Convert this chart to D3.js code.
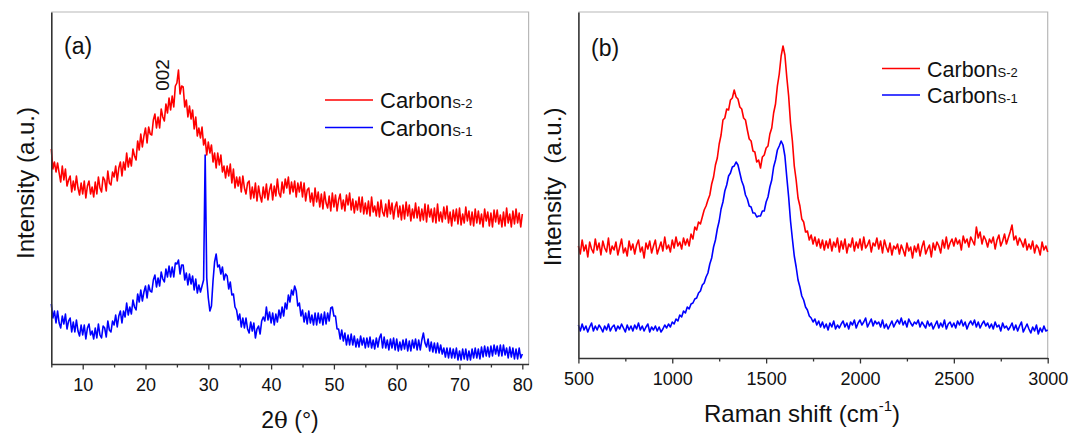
<!DOCTYPE html>
<html>
<head>
<meta charset="utf-8">
<script src="https://cdn.jsdelivr.net/npm/d3@7"></script>
<style>
  html, body { margin: 0; padding: 0; background: #fff; }
  svg { display: block; }
  text { font-family: "Liberation Sans", Arial, sans-serif; fill: #111; }
</style>
</head>
<body>
<svg id="chart" width="1071" height="435"></svg>
<script>
// ---------------- DATA ----------------
// (a) XRD: 2θ sampling grid start/step, intensities (a.u.)
const xrdTheta0 = 5, xrdStep = 0.25;
const xrdRed = [
215,195,202,192, 201,191,182,198, 184,195,178,184, 188,172,183,174, 188,176,169,181,
170,183,166,178, 183,170,177,167, 182,170,187,176, 172,187,184,173, 193,181,179,192,
187,198,183,196, 202,188,202,194, 211,197,206,198, 215,208,204,223, 214,230,217,228,
236,221,237,230, 229,244,250,236, 247,236,255,247, 243,260,251,266, 254,268,257,278,
281,294,270,278, 277,257,264,247, 258,245,254,235, 247,228,236,226, 237,219,225,209,
222,211,219,202, 211,196,211,199, 209,192,198,186, 198,188,200,181, 195,176,187,178,
187,172,188,176, 170,181,183,165, 177,166,181,163, 178,168,162,177, 166,180,164,174,
180,164,178,168, 185,171,167,182, 171,185,176,187, 170,182,172,183, 167,181,172,182,
167,181,163,174, 176,162,171,158, 176,162,172,157, 170,155,172,161, 156,168,153,171,
157,169,153,164, 170,155,164,153, 169,159,171,154, 165,151,163,154, 167,152,167,150,
161,150,163,148, 167,152,158,148, 162,147,164,152, 148,160,147,164, 150,161,145,157,
162,147,158,144, 159,145,162,148, 159,143,155,146, 161,146,157,143, 155,144,160,142,
159,147,155,142, 156,141,160,143, 152,142,157,145, 158,141,152,138, 154,143,155,140,
156,139,150,141, 157,143,153,139, 152,138,155,141, 153,140,150,137, 155,143,152,138,
151,137,154,142, 154,140,149,137, 152,138,156,141, 150,137,153,140, 155,141,151,137,
150
];
const xrdBlue = [
60,46,53,41, 53,41,36,48, 40,50,35,43, 46,32,42,32, 44,33,28,39,
29,39,25,36, 40,29,33,25, 36,26,40,29, 26,38,36,27, 43,34,32,43,
39,49,37,48, 53,41,53,47, 61,49,57,50, 64,57,54,70, 62,74,63,72,
78,66,79,73, 72,84,89,77, 86,78,92,85, 82,95,87,98, 87,97,87,101,
100,104,90,99, 99,84,91,79, 90,80,88,74, 85,71,79,72, 78,84,209,86,
66,53,58,83, 102,110,97,99, 90,97,84,90, 88,75,82,69, 70,57,54,44,
50,37,46,36, 46,35,31,42, 33,41,26,35, 38,30,43,47, 43,57,44,52,
41,51,39,50, 42,54,46,57, 48,61,55,69, 62,74,69,78, 73,58,61,48,
54,42,51,40, 53,41,49,39, 51,39,51,41, 50,39,52,40, 51,43,56,57,
48,48,35,35, 25,34,23,31, 19,29,19,30, 19,28,17,25, 17,28,19,26,
16,26,17,27, 16,24,15,26, 17,26,30,16, 27,16,24,14, 25,16,26,14,
25,13,22,14, 24,15,25,13, 23,13,24,16, 25,14,24,14, 24,31,21,17,
25,13,22,12, 21,11,21,11, 19,10,16,7, 16,6,16,6, 15,6,16,4,
13,4,15,5, 15,4,13,4, 15,6,16,6, 15,5,17,7, 18,8,17,7,
18,8,19,10, 18,8,19,8, 19,9,16,6, 17,7,16,5, 15,5,16,6,
10
];
const xrdTicks = [10, 20, 30, 40, 50, 60, 70, 80];
const xrdMinorTicks = [5, 15, 25, 35, 45, 55, 65, 75];

// (b) Raman: shift grid start/step (cm-1), intensities (a.u.)
const ramanX0 = 500, ramanStep = 10;
const ramanRed = [
112,104,118,107,113,101,116,109,105,119,
108,115,103,117,110,106,120,104,112,108,
116,103,111,119,105,110,102,117,108,114,
104,113,118,106,111,100,115,109,117,105,
112,118,104,110,116,107,121,109,113,106,
118,110,121,112,116,109,120,113,119,112,
124,119,131,128,136,134,141,148,152,158,
163,174,181,193,200,214,223,238,240,249,
248,258,260,268,261,259,251,249,240,238,
228,219,217,207,206,196,198,190,201,203,
210,212,224,230,245,254,272,284,302,312,
303,281,262,235,217,192,178,160,152,139,
136,126,127,118,123,114,121,112,119,110,
118,108,117,110,119,107,116,111,120,106,
117,109,119,105,114,111,120,107,116,110,
119,108,121,110,113,118,106,115,112,120,
109,117,105,118,111,106,115,103,112,109,
114,104,113,108,102,115,107,111,100,112,
106,114,102,111,117,104,109,113,101,115,
108,116,112,105,118,110,121,109,115,119,
112,120,114,118,108,122,115,119,111,121,
117,113,131,120,126,114,122,118,111,119,
115,121,109,118,123,112,117,124,114,120,
126,133,118,122,113,120,116,111,119,108,
114,109,117,105,113,110,103,116,108,112,
106
];
const ramanBlue = [
33,27,34,28,32,26,31,35,27,32,
28,33,30,26,32,28,34,27,31,33,
27,32,29,34,30,26,33,28,32,27,
33,29,35,28,32,27,31,34,26,31,
28,32,27,31,26,29,33,30,34,31,
36,34,39,37,43,41,47,45,51,49,
54,55,59,60,65,67,73,75,81,85,
94,100,111,118,129,137,149,156,167,173,
182,185,191,192,196,193,185,177,172,163,
159,152,151,145,145,141,142,142,147,147,
156,161,171,178,191,198,208,212,217,213,
202,181,161,137,119,102,91,78,71,62,
58,51,48,42,40,36,39,33,37,31,
36,30,34,28,35,31,37,29,33,30,
34,37,31,35,29,36,33,38,30,35,
38,33,36,40,31,35,39,32,37,34,
36,31,38,30,34,29,33,37,31,35,
38,34,40,33,37,31,39,35,32,36,
34,38,31,36,33,30,37,32,35,29,
33,37,30,35,31,38,29,34,36,31,
35,30,37,33,38,32,36,29,34,37,
33,38,31,36,30,34,37,32,35,30,
34,29,36,31,33,27,35,30,32,28,
31,35,28,33,27,32,36,26,30,34,
29,25,31,27,33,24,30,26,32,27,
28
];
const ramanTicks = [500, 1000, 1500, 2000, 2500, 3000];
const ramanMinorTicks = [750, 1250, 1750, 2250, 2750];

const seriesNames = ["Carbon", "Carbon"];
const seriesSubs = ["S-2", "S-1"];
const seriesColors = ["#ff0000", "#0000ff"];

// ---------------- DRAW ----------------
const svg = d3.select("#chart");

function panel(cfg) {
  const g = svg.append("g");
  const x = d3.scaleLinear().domain(cfg.xDomain).range([cfg.left, cfg.right]);
  const y = d3.scaleLinear().domain(cfg.yDomain).range([cfg.bottom, cfg.top]);

  // frame top/right (light)
  g.append("path")
    .attr("d", `M${cfg.left},${cfg.top}H${cfg.right}V${cfg.bottom}`)
    .attr("fill", "none").attr("stroke", "#b8b8b8").attr("stroke-width", 1.2);

  const line = d3.line().x(d => x(d[0])).y(d => y(d[1]));
  const toPts = (arr) => arr.map((v, i) => [cfg.x0 + i * cfg.step, v]);

  [1, 0].forEach(k => {
    g.append("path")
      .datum(toPts(cfg.series[k]))
      .attr("d", line)
      .attr("fill", "none")
      .attr("stroke", seriesColors[k])
      .attr("stroke-width", 1.6)
      .attr("stroke-linejoin", "round");
  });

  // minor ticks
  g.append("g")
    .attr("transform", `translate(0,${cfg.bottom})`)
    .call(d3.axisBottom(x).tickValues(cfg.minor).tickSize(3.5).tickSizeOuter(0).tickFormat(""))
    .call(a => a.select(".domain").remove())
    .call(a => a.selectAll("line").attr("stroke", "#333").attr("stroke-width", 1.3));
  // major ticks
  g.append("g")
    .attr("transform", `translate(0,${cfg.bottom})`)
    .call(d3.axisBottom(x).tickValues(cfg.major).tickSize(5.5).tickSizeOuter(0)
      .tickPadding(cfg.tickPad).tickFormat(d3.format("d")))
    .call(a => a.select(".domain").attr("stroke", "#333").attr("stroke-width", 1.6))
    .call(a => a.selectAll("line").attr("stroke", "#333").attr("stroke-width", 1.3))
    .call(a => a.selectAll("text").attr("font-size", 18).attr("fill", "#111")
      .attr("font-family", '"Liberation Sans", Arial, sans-serif'));

  // left axis line
  g.append("g")
    .attr("transform", `translate(${cfg.left},0)`)
    .call(d3.axisLeft(y).tickValues([]).tickSizeOuter(0))
    .call(a => a.select(".domain").attr("stroke", "#333").attr("stroke-width", 1.6));

  // panel letter
  g.append("text").attr("x", cfg.letterX).attr("y", cfg.letterY)
    .attr("font-size", 23).text(cfg.letter);

  // legend
  seriesNames.forEach((nm, i) => {
    const ly = cfg.legY + i * cfg.legGap;
    g.append("line").attr("x1", cfg.legX1).attr("x2", cfg.legX2)
      .attr("y1", ly).attr("y2", ly)
      .attr("stroke", seriesColors[i]).attr("stroke-width", 1.5);
    const t = g.append("text").attr("x", cfg.legX2 + 7).attr("y", ly + 8)
      .attr("font-size", cfg.legFont);
    t.append("tspan").text(nm);
    t.append("tspan").attr("font-size", 13).text(seriesSubs[i]);
  });

  // y title
  g.append("text")
    .attr("transform", `translate(${cfg.yTitleX},${cfg.yTitleY}) rotate(-90)`)
    .attr("text-anchor", "middle").attr("font-size", 24)
    .style("white-space", "pre")
    .text(cfg.yTitle);

  return { g, x, y };
}

const pa = panel({
  left: 51.3, right: 528.6, top: 12, bottom: 364,
  xDomain: [5, 81], yDomain: [0, 352],
  x0: xrdTheta0, step: xrdStep, series: [xrdRed, xrdBlue],
  major: xrdTicks, minor: xrdMinorTicks, tickPad: 9,
  letter: "(a)", letterX: 64, letterY: 54,
  legX1: 325, legX2: 373, legY: 100, legGap: 27.5, legFont: 22,
  yTitle: "Intensity (a.u.)", yTitleX: 34, yTitleY: 183
});
// x title (a)
const ta = pa.g.append("text").attr("x", 290).attr("y", 428)
  .attr("text-anchor", "middle").attr("font-size", 23);
ta.append("tspan").text("2");
ta.append("tspan").attr("font-family", '"DejaVu Serif", "Liberation Serif", serif').text("θ");
ta.append("tspan").text(" (°)");
// peak label
pa.g.append("text")
  .attr("transform", `translate(${pa.x(25.2) - 9},75) rotate(-90)`)
  .attr("text-anchor", "middle").attr("font-size", 19).text("002");

const pb = panel({
  left: 578.4, right: 1047.7, top: 12, bottom: 358,
  xDomain: [500, 3000], yDomain: [0, 346],
  x0: ramanX0, step: ramanStep, series: [ramanRed, ramanBlue],
  major: ramanTicks, minor: ramanMinorTicks, tickPad: 9,
  letter: "(b)", letterX: 591, letterY: 56,
  legX1: 882, legX2: 920, legY: 68.5, legGap: 26.5, legFont: 21.5,
  yTitle: "Intensity  (a.u.)", yTitleX: 561, yTitleY: 187
});
// x title (b)
const tb = pb.g.append("text").attr("x", 802).attr("y", 422)
  .attr("text-anchor", "middle").attr("font-size", 24);
tb.append("tspan").text("Raman shift (cm");
tb.append("tspan").attr("font-size", 15).attr("dy", -11).text("-1");
tb.append("tspan").attr("dy", 11).text(")");
</script>
</body>
</html>
